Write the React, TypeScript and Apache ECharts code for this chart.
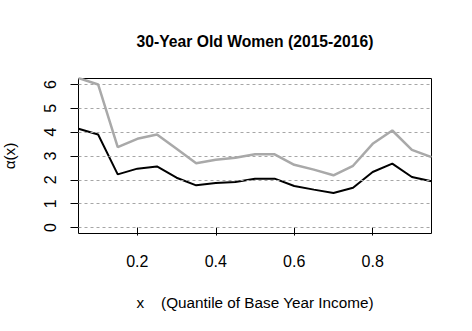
import React, { useEffect, useRef } from "react";
import * as echarts from "echarts";

const quantiles = [0.05, 0.1, 0.15, 0.2, 0.25, 0.3, 0.35, 0.4, 0.45, 0.5, 0.55, 0.6, 0.65, 0.7, 0.75, 0.8, 0.85, 0.9, 0.95];
const greySeries = [6.27, 6.0, 3.37, 3.72, 3.9, 3.3, 2.7, 2.84, 2.93, 3.07, 3.07, 2.63, 2.43, 2.19, 2.59, 3.51, 4.07, 3.26, 2.95];
const blackSeries = [4.14, 3.9, 2.23, 2.47, 2.56, 2.09, 1.77, 1.87, 1.91, 2.05, 2.05, 1.74, 1.59, 1.45, 1.67, 2.33, 2.68, 2.12, 1.94];
const xTicks = [0.2, 0.4, 0.6, 0.8];
const yTicks = [0, 1, 2, 3, 4, 5, 6];
const titleText = "30-Year Old Women (2015-2016)";
const xLabel = "x    (Quantile of Base Year Income)";
const yLabel = "\u03b1(x)";

const FONT = "'Liberation Sans', Arial, sans-serif";

export default function App() {
  const ref = useRef<HTMLDivElement>(null);
  useEffect(() => {
    if (!ref.current) return;
    const chart = echarts.init(ref.current, undefined, { renderer: "svg" });
    const left = 78.5;
    const top = 78.5;
    const width = 353;
    const height = 155;
    chart.setOption({
      animation: false,
      backgroundColor: "#ffffff",
      grid: {
        left,
        top,
        width,
        height,
        show: true,
        borderColor: "#000000",
        borderWidth: 1,
        backgroundColor: "transparent",
        containLabel: false,
      },
      xAxis: {
        type: "value",
        min: 0.05,
        max: 0.95,
        axisLine: { show: false },
        splitLine: { show: false },
        axisTick: {
          show: true,
          inside: false,
          length: 8,
          customValues: xTicks,
          lineStyle: { color: "#000", width: 1 },
        },
        axisLabel: {
          customValues: xTicks,
          margin: 20,
          color: "#000",
          fontFamily: FONT,
          fontSize: 16,
          formatter: (v: number) => v.toFixed(1),
        },
      },
      yAxis: {
        type: "value",
        min: -0.25,
        max: 6.25,
        axisLine: { show: false },
        splitLine: { show: false },
        axisTick: {
          show: true,
          inside: false,
          length: 8,
          customValues: yTicks,
          lineStyle: { color: "#000", width: 1 },
        },
        axisLabel: {
          customValues: yTicks,
          rotate: 90,
          margin: 20,
          color: "#000",
          fontFamily: FONT,
          fontSize: 16,
        },
      },
      series: [
        {
          type: "line",
          data: [],
          silent: true,
          markLine: {
            silent: true,
            symbol: ["none", "none"],
            label: { show: false },
            lineStyle: { color: "#a6a6a6", type: [3, 3], width: 1 },
            data: yTicks.map((v) => ({ yAxis: v })),
          },
        },
        {
          type: "line",
          data: quantiles.map((q, i) => [q, greySeries[i]]),
          symbol: "none",
          clip: true,
          lineStyle: { color: "#a9a9a9", width: 2.5 },
        },
        {
          type: "line",
          data: quantiles.map((q, i) => [q, blackSeries[i]]),
          symbol: "none",
          clip: true,
          lineStyle: { color: "#000000", width: 2 },
        },
      ],
      graphic: [
        {
          type: "text",
          x: 255,
          y: 41,
          style: {
            text: titleText,
            fill: "#000",
            font: `bold 15.7px ${FONT}`,
            textAlign: "center",
            textVerticalAlign: "middle",
          },
        },
        {
          type: "text",
          x: 255,
          y: 302,
          style: {
            text: xLabel,
            fill: "#000",
            font: `15.3px ${FONT}`,
            textAlign: "center",
            textVerticalAlign: "middle",
          },
        },
        {
          type: "text",
          x: 9,
          y: 156,
          rotation: Math.PI / 2,
          style: {
            text: yLabel,
            fill: "#000",
            font: `15.3px ${FONT}`,
            textAlign: "center",
            textVerticalAlign: "middle",
          },
        },
      ],
    });
    return () => chart.dispose();
  }, []);
  return <div ref={ref} style={{ width: 472, height: 331, position: "absolute", left: 0, top: 0 }} />;
}
